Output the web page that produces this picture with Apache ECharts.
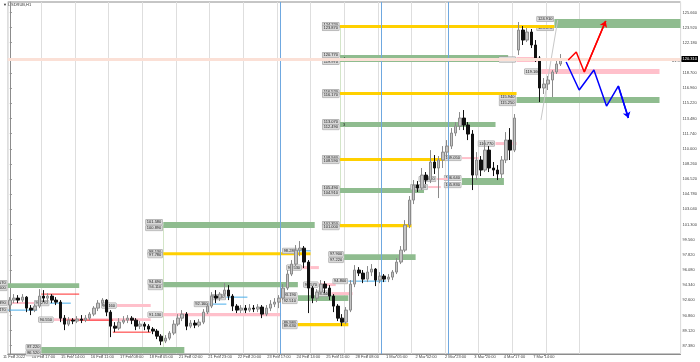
<!DOCTYPE html>
<html>
<head>
<meta charset="utf-8">
<script src="https://cdn.jsdelivr.net/npm/echarts@6/dist/echarts.min.js"></script>
<style>
  html, body { margin: 0; padding: 0; background: #fff; }
  #chart { width: 700px; height: 362px; }
</style>
</head>
<body>
<div id="chart"></div>
<script>
// 3-hour candles, slot 0 = left edge
var opens = [92.05,92.62,92.85,92.62,92.96,91.70,91.47,91.93,93.08,92.85,
  93.08,92.62,92.39,90.55,89.86,90.32,90.21,90.44,90.32,90.55,
  91.01,91.70,92.27,92.62,91.24,89.63,89.40,90.09,90.32,90.55,
  90.32,89.63,89.86,89.63,89.29,89.06,88.48,87.91,88.25,88.83,
  89.86,90.55,91.01,89.63,89.98,89.75,90.09,91.24,91.93,93.08,
  92.85,93.31,93.77,93.08,91.93,91.47,91.70,91.47,91.70,91.59,
  91.82,91.01,91.70,92.16,92.39,92.85,94.00,95.61,96.76,98.36,
  98.59,96.99,94.00,92.85,93.54,94.46,94.00,93.08,91.93,90.55,
  90.09,91.47,94.46,96.07,95.72,95.03,95.84,96.18,94.92,95.38,
  95.03,95.26,95.84,96.99,98.36,101.24,104.11,105.83,105.49,106.98,
  106.41,108.48,107.79,108.71,109.62,110.31,111.81,112.61,113.53,112.73,
  111.69,106.98,108.71,107.56,109.85,107.79,107.56,107.10,108.71,111.00,
  109.85,121.34,123.64,122.49,123.41,121.92,120.42,116.98,117.44,117.90,
  118.82,119.74];
var closes = [92.62,92.85,92.62,92.96,91.70,91.47,91.93,93.08,92.85,93.08,
  92.62,92.39,90.55,89.86,90.32,90.21,90.44,90.32,90.55,91.01,
  91.70,92.27,92.62,91.24,89.63,89.40,90.09,90.32,90.55,90.32,
  89.63,89.86,89.63,89.29,89.06,88.48,87.91,88.25,88.83,89.86,
  90.55,91.01,89.63,89.98,89.75,90.09,91.24,91.93,93.08,92.85,
  93.31,93.77,93.08,91.93,91.47,91.70,91.47,91.70,91.59,91.82,
  91.01,91.70,92.16,92.39,92.85,94.00,95.61,96.76,98.36,98.59,
  96.99,94.00,92.85,93.54,94.46,94.00,93.08,91.93,90.55,90.09,
  91.47,94.46,96.07,95.72,95.03,95.84,96.18,94.92,95.38,95.03,
  95.26,95.84,96.99,98.36,101.24,104.11,105.83,105.49,106.98,106.41,
  108.48,107.79,108.71,109.62,110.31,111.81,112.61,113.53,112.73,111.69,
  106.98,108.71,107.56,109.85,107.79,107.56,107.10,108.71,111.00,109.85,
  113.53,123.64,122.49,123.41,121.92,120.42,116.98,117.44,117.90,118.82,
  119.74,120.31];
var lows = [91.24,92.27,92.27,92.39,91.24,90.90,91.24,91.70,92.39,92.39,
  92.27,92.05,90.09,89.17,89.63,89.86,89.98,89.98,90.09,90.32,
  90.78,91.36,91.93,90.78,88.37,88.94,89.17,89.86,89.98,89.86,
  89.17,89.29,89.17,88.94,88.71,88.14,87.45,87.68,88.02,88.60,
  89.63,90.21,89.17,89.40,89.40,89.52,89.86,91.01,91.70,92.27,
  92.51,93.08,92.62,91.36,91.13,91.13,91.13,91.24,91.24,91.24,
  90.55,90.78,91.36,91.82,91.70,92.62,93.77,95.38,96.53,97.67,
  96.30,91.13,92.27,92.39,93.31,93.42,92.62,91.24,90.21,89.63,
  89.86,91.24,94.11,95.38,94.57,94.69,95.38,94.23,94.57,94.69,
  94.69,94.92,95.61,96.76,98.13,100.89,103.65,105.03,105.26,105.95,
  106.06,107.10,104.34,107.79,109.17,109.97,111.46,112.15,112.15,111.00,
  105.26,106.41,106.87,107.33,107.33,106.87,106.41,106.64,108.36,108.71,
  109.62,120.77,121.92,122.26,121.57,119.97,115.37,116.29,116.75,115.94,
  118.59,119.51];
var highs = [92.96,93.31,93.19,93.31,93.08,92.05,92.16,93.88,93.77,93.42,
  93.31,92.96,92.62,90.90,90.67,90.55,90.78,90.90,90.90,91.24,
  91.93,92.62,92.85,92.73,91.47,90.09,90.55,90.78,90.90,90.78,
  90.55,90.21,90.09,89.86,89.52,89.29,88.71,88.60,89.06,90.32,
  91.01,91.47,91.24,90.32,90.32,90.44,91.59,92.27,93.54,93.77,
  93.54,94.57,94.34,93.31,92.16,92.05,92.05,92.16,92.05,92.16,
  92.05,92.05,92.62,92.85,93.19,94.46,96.07,97.22,98.94,99.40,
  98.83,97.22,94.23,93.88,94.92,94.80,94.34,93.31,92.16,91.01,
  91.82,94.92,96.64,96.41,96.07,96.53,96.76,96.30,95.84,95.61,
  95.61,96.07,97.45,98.83,101.81,104.57,106.41,106.29,107.79,107.33,
  109.85,109.28,109.17,110.31,111.00,112.38,113.07,114.22,114.45,113.07,
  112.15,109.62,109.17,111.00,110.31,108.48,108.13,109.17,111.92,112.38,
  113.99,124.56,124.10,123.87,123.76,122.49,120.65,118.13,118.36,119.05,
  120.19,120.88];

var slotCount = 160;
var xLabels = ['11 Feb 2022','14 Feb 17:00','15 Feb 14:00','16 Feb 11:00','17 Feb 08:00',
  '18 Feb 05:00','21 Feb 02:00','21 Feb 23:00','22 Feb 20:00','23 Feb 17:00','24 Feb 14:00',
  '25 Feb 11:00','28 Feb 08:00','1 Mar 05:00','2 Mar 02:00','2 Mar 23:00','3 Mar 20:00',
  '4 Mar 17:00','7 Mar 14:00'];
var yTicks = [87.38,89.12,90.86,92.60,94.34,96.08,97.82,99.56,101.30,103.04,104.78,
  106.52,108.26,110.00,111.74,113.48,115.22,116.96,118.70,122.18,123.92,125.66];

// zones: [first slot, last slot, low, high]
var goldZones = [[79,129,123.87,124.22],[79,120,116.17,116.52],[79,104,108.59,108.94],
  [79,95,101.00,101.35],[37,71,97.78,98.13],[69,80,89.63,89.98]];
var greenZones = [[130,159,123.87,124.91],[79,118,119.97,120.77],[121,154,115.25,115.94],
  [79,115,112.49,113.07],[108,117,105.83,106.64],[79,98,104.91,105.49],[37,72,100.89,101.58],
  [37,68,94.11,94.69],[0,16,94.00,94.57],[8,41,86.52,87.22],[69,80,92.51,93.19],[80,96,97.22,97.90]];
var greenTags = ['','4','','3','','','','','','','',''];
var pinkZones = [[121,125,119.97,120.54],[127,154,118.59,119.16],[116,120,110.43,110.77],
  [108,111,108.82,109.05],[102,104,106.41,106.64],[100,102,105.49,105.72],[0,7,92.16,92.39],
  [11,33,90.21,90.55],[26,33,91.82,92.16],[37,64,90.78,91.13],[70,73,96.18,96.53],
  [74,77,94.23,94.57],[77,81,93.19,93.54]];
// levels: [first slot, last slot, price]
var redLevels = [[8,16,93.31],[14,24,90.32],[25,33,88.94]];
var blueLevels = [[0,6,91.47],[10,14,92.27],[48,51,92.16],[52,56,92.96],[69,71,98.28],[81,89,94.80]];
// day separators, drawn just left of these slots
var separators = [65, 89, 105];
// thin connectors: [slot edge, from price, to price]
var connectors = [[79, 124.05, 101.17], [37, 101.23, 86.87]];
var trendLine = [[126.3, 113.30], [130.3, 124.79]];
var redPath = [[132.8,120.19],[134.7,121.11],[136.6,118.82],[141.7,124.68]];
var bluePath = [[132.3,119.97],[135.4,116.75],[138.9,119.05],[141.9,114.91],[144.7,117.21],[147.1,113.53]];

var lastClose = closes[closes.length - 1];
var slots = [];
for (var i = 0; i < slotCount; i++) slots.push(String(i));
var candles = opens.map(function (o, i) { return [o, closes[i], lows[i], highs[i]]; });

function tagText(x, y, v) {
	return { type: 'text', style: { text: v.toFixed(3), x: x, y: y, align: 'right', verticalAlign: 'middle',
		fontSize: 4, fontFamily: 'Liberation Sans', fill: '#222',
		backgroundColor: '#d9d9d9', borderColor: '#9a9a9a', borderWidth: 0.5, padding: [0.5, 1] } };
}

function zoneSeries(rows, fill, twoTags, tags) {
	return {
		type: 'custom', xAxisIndex: 1, yAxisIndex: 0, z: 1, silent: true,
		data: rows, encode: { x: [0, 1], y: [2, 3] },
		renderItem: function (params, api) {
			var a = api.coord([api.value(0) - 0.5, api.value(3)]);
			var b = api.coord([api.value(1) + 0.5, api.value(2)]);
			var kids = [{ type: 'rect',
				shape: { x: a[0], y: a[1], width: b[0] - a[0], height: Math.max(b[1] - a[1], 1) },
				style: { fill: fill } }];
			if (twoTags) {
				kids.push(tagText(a[0] - 1, a[1], api.value(3)));
				kids.push(tagText(a[0] - 1, b[1], api.value(2)));
			} else {
				kids.push(tagText(a[0] - 1, (a[1] + b[1]) / 2, api.value(3)));
			}
			var t = tags && tags[params.dataIndex];
			if (t) {
				kids.push({ type: 'text', style: { text: t, x: a[0] + 3, y: (a[1] + b[1]) / 2,
					fontSize: 4, fill: '#222', verticalAlign: 'middle' } });
			}
			return { type: 'group', children: kids };
		}
	};
}

function levelSeries(rows, color, withTag) {
	return {
		type: 'custom', xAxisIndex: 1, yAxisIndex: 0, z: 2, silent: true,
		data: rows, encode: { x: [0, 1], y: 2 },
		renderItem: function (params, api) {
			var a = api.coord([api.value(0) - 0.5, api.value(2)]);
			var b = api.coord([api.value(1) + 0.5, api.value(2)]);
			var kids = [{ type: 'line', shape: { x1: a[0], y1: a[1], x2: b[0], y2: b[1] },
				style: { stroke: color, lineWidth: 1 } }];
			if (withTag) kids.push(tagText(a[0] - 1, a[1], api.value(2)));
			return { type: 'group', children: kids };
		}
	};
}

var connectorSeries = {
	type: 'custom', xAxisIndex: 1, yAxisIndex: 0, z: 1, silent: true,
	data: connectors, encode: { x: 0, y: [1, 2] },
	renderItem: function (params, api) {
		var a = api.coord([api.value(0) - 0.5, api.value(1)]);
		var b = api.coord([api.value(0) - 0.5, api.value(2)]);
		var x = Math.round(a[0]) + 0.5;
		return { type: 'line', shape: { x1: x, y1: a[1], x2: x, y2: b[1] },
			style: { stroke: '#d3e5c8', lineWidth: 1 } };
	}
};

var separatorSeries = {
	type: 'custom', xAxisIndex: 1, yAxisIndex: 0, z: 2, silent: true,
	data: separators.map(function (s) { return [s - 0.8, 110]; }),
	encode: { x: 0, y: 1 },
	renderItem: function (params, api) {
		var p = api.coord([api.value(0), api.value(1)]);
		var x = Math.round(p[0]) + 0.5;
		return { type: 'line', shape: { x1: x, y1: params.coordSys.y, x2: x, y2: params.coordSys.y + params.coordSys.height },
			style: { stroke: '#6fa8e0', lineWidth: 1 } };
	}
};

function arrowSeries(path, color) {
	return [{ type: 'line', xAxisIndex: 1, yAxisIndex: 0, z: 5, silent: true,
		data: path, symbol: 'none', lineStyle: { color: color, width: 1.5 } },
	{ type: 'lines', coordinateSystem: 'cartesian2d', xAxisIndex: 1, yAxisIndex: 0, z: 5, silent: true,
		data: [{ coords: path.slice(-2) }], symbol: ['none', 'arrow'], symbolSize: 6,
		lineStyle: { color: color, width: 1.5, opacity: 1 } }];
}

var chart = echarts.init(document.getElementById('chart'), null, { renderer: 'canvas' });
chart.setOption({
	animation: false,
	backgroundColor: '#ffffff',
	textStyle: { fontFamily: 'Liberation Sans' },
	grid: { left: 1, right: 16, top: 2, bottom: 8, show: true, borderColor: '#8c8c8c', borderWidth: 1 },
	xAxis: [{
		type: 'category', data: slots, boundaryGap: true,
		axisLine: { lineStyle: { color: '#8c8c8c' } },
		axisTick: { show: true, length: 2, alignWithLabel: true, lineStyle: { color: '#8c8c8c' },
			interval: function (idx) { return idx >= 1 && (idx - 1) % 7 === 0 && (idx - 1) / 7 < xLabels.length; } },
		axisLabel: { fontSize: 4, color: '#444', margin: 1, hideOverlap: false,
			interval: function (idx) { return idx >= 1 && (idx - 1) % 7 === 0 && (idx - 1) / 7 < xLabels.length; },
			formatter: function (val, idx) { return xLabels[(idx - 1) / 7] || ''; } },
		splitLine: { show: true, lineStyle: { color: '#dedede', width: 1 },
			interval: function (idx) { return idx % 8 === 0 && idx <= 136; } }
	}, {
		type: 'value', min: -0.5, max: slotCount - 0.5, show: false
	}],
	yAxis: [{
		type: 'value', position: 'right', min: 86.43, max: 126.86,
		axisLine: { show: true, lineStyle: { color: '#8c8c8c' } },
		axisTick: { show: true, length: 2, customValues: yTicks, lineStyle: { color: '#8c8c8c' } },
		axisLabel: { fontSize: 4, color: '#444', margin: 2, customValues: yTicks,
			formatter: function (v) { return v.toFixed(3); } },
		splitLine: { show: false }
	}],
	graphic: [
		{ type: 'text', left: 3, top: 3, style: { text: '\u25BC USDRUB,H1', fontSize: 4, fill: '#333' } },
		{ type: 'text', right: 18, top: 59, style: { text: '01:59', fontSize: 4, fill: '#333' } }
	],
	series: [
		connectorSeries,
		separatorSeries,
		zoneSeries(greenZones, '#8fbc8f', true, greenTags),
		zoneSeries(goldZones, '#ffd000', true, null),
		zoneSeries(pinkZones, '#ffc0cb', false, null),
		levelSeries(redLevels, '#ff2a2a', false),
		levelSeries(blueLevels, '#4aaeea', true),
		{ type: 'lines', coordinateSystem: 'cartesian2d', xAxisIndex: 1, yAxisIndex: 0, z: 2, silent: true,
			data: [{ coords: trendLine }], lineStyle: { color: '#c8c8c8', width: 1, opacity: 1 } },
		{ type: 'candlestick', xAxisIndex: 0, yAxisIndex: 0, z: 3,
			data: candles, barWidth: 3, silent: true,
			itemStyle: { color: '#c4c4c4', color0: '#111111', borderColor: '#8a8a8a', borderColor0: '#111111', borderWidth: 1 },
			markLine: { symbol: 'none', silent: true, animation: false,
				data: [
					{ yAxis: lastClose, lineStyle: { color: '#fbe0d6', width: 3, type: 'solid' },
						label: { show: true, position: 'end', distance: 1, formatter: lastClose.toFixed(3),
							backgroundColor: '#000', color: '#fff', fontSize: 4, padding: [1, 1] } },
					{ yAxis: lastClose, lineStyle: { opacity: 0 },
						label: { show: true, position: 'insideStartTop', distance: 1, formatter: lastClose.toFixed(3),
							color: '#f0783c', fontSize: 4 } }
				] } }
	].concat(arrowSeries(redPath, '#ff0000'), arrowSeries(bluePath, '#0000ff'))
});
</script>
</body>
</html>
